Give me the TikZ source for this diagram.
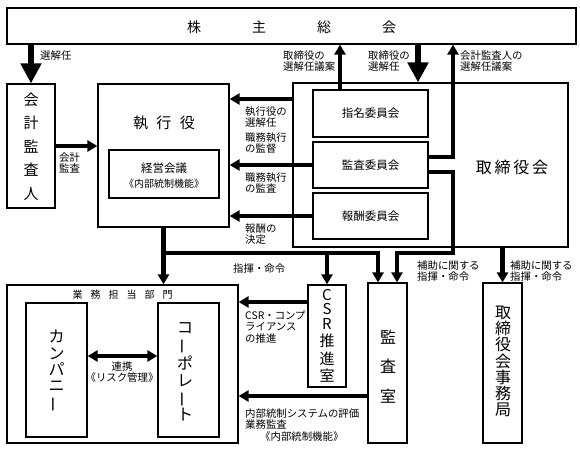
\documentclass[tikz,border=0pt]{standalone}
\usepackage{fontspec}
\usepackage{graphicx}
\setmainfont{Noto Sans CJK JP}
\usetikzlibrary{arrows.meta,fit}
\newcommand{\tatebar}{\rotatebox[origin=c]{90}{ー}}
\begin{document}
\begin{tikzpicture}[x=1pt,y=-1pt,
  box/.style={draw, line width=1.2pt, inner sep=0pt},
  arr/.style={line width=4.5pt, -{Triangle[width=11pt,length=10pt]}},
  bigarr/.style={line width=6.5pt, -{Triangle[width=20pt,length=20pt]}},
  dblarr/.style={line width=4.5pt, {Triangle[width=11pt,length=10pt]}-{Triangle[width=11pt,length=10pt]}},
  lbl/.style={font=\fontsize{10.4}{11.5}\selectfont, align=left, inner sep=0pt, anchor=north west},
  vt/.style={align=center, inner sep=0pt},
  txt/.style={inner sep=0pt}]
\useasboundingbox (0,0) rectangle (580,449);
% boxes
\node[box, fit={(7,8) (576,44)}] (share) {};
\node[box, fit={(7,84) (55,208)}] (kaikei) {};
\node[box, fit={(98,84) (229,227)}] (shikko) {};
\node[box, fit={(109,150) (219,198)}] (keiei) {};
\node[box, fit={(293,83) (568,247)}] (board) {};
\node[box, fit={(313,90) (428,137)}] (shimei) {};
\node[box, fit={(313,142) (428,188)}] (kansa) {};
\node[box, fit={(313,193) (428,239)}] (hoshu) {};
\node[box, fit={(7,285) (238,443)}] (gyomu) {};
\node[box, fit={(26,303) (87,437)}] (company) {};
\node[box, fit={(158,303) (219,437)}] (corporate) {};
\node[box, fit={(308,285) (346,387)}] (csr) {};
\node[box, fit={(368,283) (407,443)}] (kansashitsu) {};
\node[box, fit={(483,283) (522,443)}] (jimukyoku) {};
% box texts
\node[txt, font=\fontsize{14}{14}\selectfont] (t-share) at (291.5,27) {株\hspace{51pt}主\hspace{51pt}総\hspace{51pt}会};
\node[vt, font=\fontsize{15}{23.5}\selectfont] (t-kaikei) at (31,146.5) {会\\計\\監\\査\\人};
\node[txt, font=\fontsize{15}{15}\selectfont] (t-shikko) at (164,123) {執\hspace{8.5pt}行\hspace{8.5pt}役};
\node[vt, font=\fontsize{11.5}{15}\selectfont] (t-keiei) at (164,175.5) {経営会議\\{\fontsize{10}{15}\selectfont《内部統制機能》}};
\node[txt, font=\fontsize{11.5}{12}\selectfont] (t-shimei) at (shimei.center) {指名委員会};
\node[txt, font=\fontsize{11.5}{12}\selectfont] (t-kansa) at (kansa.center) {監査委員会};
\node[txt, font=\fontsize{11.5}{12}\selectfont] (t-hoshu) at (hoshu.center) {報酬委員会};
\node[txt, font=\fontsize{16}{16}\selectfont] (t-board) at (512,167) {取\hspace{2.7pt}締\hspace{2.7pt}役\hspace{2.7pt}会};
\node[txt, font=\fontsize{10}{10}\selectfont] (t-gyomu) at (122.5,295) {業\hspace{8pt}務\hspace{8pt}担\hspace{8pt}当\hspace{8pt}部\hspace{8pt}門};
\node[vt, font=\fontsize{16}{16.3}\selectfont] (t-company) at (56.5,371.5) {カ\\ン\\パ\\ニ\\\tatebar};
\node[vt, font=\fontsize{16}{16.8}\selectfont] (t-corporate) at (185,372) {コ\\\tatebar\\ポ\\レ\\\tatebar\\ト};
\node[vt, font=\fontsize{15}{17.5}\selectfont] (t-csr) at (327,336) {C\\[-3pt]S\\[-3pt]R\\推\\進\\室};
\node[vt, font=\fontsize{16}{29.5}\selectfont] (t-kansashitsu) at (388,366.5) {監\\査\\室};
\node[vt, font=\fontsize{16}{16.2}\selectfont] (t-jimukyoku) at (503,361.5) {取\\締\\役\\会\\事\\務\\局};
% helper coordinates
\coordinate (xA) at (340,0);
\coordinate (xB) at (453,0);
\coordinate (xC) at (397,0);
\coordinate (xD) at (378,0);
\coordinate (xE) at (418,0);
\coordinate (yH) at (0,253);
% connectors
\draw[bigarr] (kaikei.north |- share.south) -- (kaikei.north);
\draw[arr] (shimei.north -| xA) -- (share.south -| xA);
\draw[bigarr] (share.south -| xE) -- (board.north -| xE);
\draw[arr] ([yshift=8pt]kansa.east) -| (share.south -| xB);
\draw[arr] ([yshift=-7pt]kansa.east) -| (yH -| xB) -| (kansashitsu.north -| xC);
\draw[arr] ([yshift=66pt]board.west) -- ([yshift=66pt]board.west -| shikko.east);
\draw[arr] (kansa.west) -- (kansa.west -| shikko.east);
\draw[arr] (hoshu.west) -- (hoshu.west -| shikko.east);
\draw[arr] (kaikei.east) -- (kaikei.east -| shikko.west);
\draw[arr] (shikko.south) -- (shikko.south |- gyomu.north);
\draw[arr] (shikko.south |- yH) -| (kansashitsu.north -| xD);
\draw[arr] (csr.north |- yH) -- (csr.north);
\draw[arr] (jimukyoku.north |- board.south) -- (jimukyoku.north);
\draw[arr] ([yshift=34pt]csr.west) -- ([yshift=34pt]csr.west -| gyomu.east);
\draw[arr] ([yshift=-33pt]kansashitsu.west) -- ([yshift=-33pt]kansashitsu.west -| gyomu.east);
\draw[dblarr] ([yshift=14pt]company.east) -- ([yshift=14pt]corporate.west);
% labels
\node[txt, font=\fontsize{10.4}{11.5}\selectfont, anchor=west] (l-senkai) at (40,56) {選解任};
\node[lbl] (l-torigian) at (283,50.3) {取締役の\\選解任議案};
\node[lbl] (l-torisen) at (368,50.3) {取締役の\\選解任};
\node[lbl] (l-kaikeigian) at (460,50.3) {会計監査人の\\選解任議案};
\node[lbl] (l-shikkosen) at (245,106.3) {執行役の\\選解任};
\node[lbl] (l-kantoku) at (245,132.3) {職務執行\\の監督};
\node[lbl] (l-kansa) at (245,172.3) {職務執行\\の監査};
\node[lbl] (l-hoshu) at (245,223.3) {報酬の\\決定};
\node[lbl] (l-kaikeikansa) at (59,152.3) {会計\\監査};
\node[lbl] (l-shiki) at (233,263.3) {指揮・命令};
\node[lbl] (l-hojo1) at (417,260.3) {補助に関する\\指揮・命令};
\node[lbl] (l-hojo2) at (510,260.3) {補助に関する\\指揮・命令};
\node[lbl] (l-csr) at (245,310.3) {CSR・コンプ\\ライアンス\\の推進};
\node[lbl] (l-naibu) at (245,408.3) {内部統制システムの評価\\業務監査\\\hspace*{15pt}《内部統制機能》};
\node[vt, font=\fontsize{10.4}{10.5}\selectfont] (l-renkei) at (122,372) {連携\\《リスク管理》};
\end{tikzpicture}
\end{document}
